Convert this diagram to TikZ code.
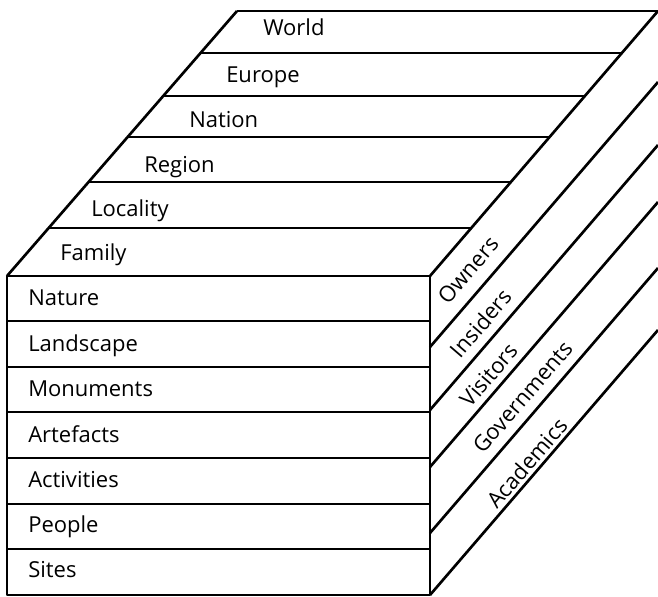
\documentclass[tikz,border=0pt]{standalone}
\usepackage{fontspec}
\setmainfont{Open Sans}

\begin{document}
\begin{tikzpicture}[x=0.75pt,y=0.75pt,yscale=-1,xscale=1,
  edge/.style={line width=2pt, line join=round},
  lbl/.style={inner sep=0.75pt, font=\fontsize{16.5}{20}\selectfont},
  side lbl/.style={lbl, rotate=49.3}]
\useasboundingbox (0,0) rectangle (658,597);

%Shape: Top face
\draw [edge] (237,11) -- (658,11) ;
\draw [edge] (237,11) -- (7,276) ;
\draw [edge] (658,11) -- (430,276) ;
%Straight Lines
\draw [edge] (200.5,53) -- (621.9,53) ;
\draw [edge] (163.2,96) -- (584.9,96) ;
\draw [edge] (127.6,137) -- (549.6,137) ;
\draw [edge] (88.6,182) -- (510.9,182) ;
\draw [edge] (48.7,228) -- (471.3,228) ;

%Shape: Front face
\draw [edge] (7,276) -- (430,276) -- (430,595) -- (7,595) -- cycle ;
%Straight Lines
\draw [edge] (7,321) -- (430,321) ;
\draw [edge] (7,367) -- (430,367) ;
\draw [edge] (7,412) -- (430,412) ;
\draw [edge] (7,458) -- (430,458) ;
\draw [edge] (7,504) -- (430,504) ;
\draw [edge] (7,549) -- (430,549) ;

%Straight Lines: side face
\draw [edge] (430,347) -- (658,82) ;
\draw [edge] (430,410) -- (658,145) ;
\draw [edge] (430,467) -- (658,202) ;
\draw [edge] (430,533) -- (658,268) ;
\draw [edge] (430,595) -- (658,330) ;

% Text Node
\draw (262,35) node [anchor=base west] [lbl] (world) {World};
% Text Node
\draw (225,82) node [anchor=base west] [lbl] (europe) {Europe};
% Text Node
\draw (188,127) node [anchor=base west] [lbl] (nation) {Nation};
% Text Node
\draw (143,172) node [anchor=base west] [lbl] (region) {Region};
% Text Node
\draw (90,216) node [anchor=base west] [lbl] (locality) {Locality};
% Text Node
\draw (59,260) node [anchor=base west] [lbl] (family) {Family};

% Text Node
\draw (27,305) node [anchor=base west] [lbl] (nature) {Nature};
% Text Node
\draw (27,351) node [anchor=base west] [lbl] (landscape) {Landscape};
% Text Node
\draw (27,396) node [anchor=base west] [lbl] (monuments) {Monuments};
% Text Node
\draw (27,442) node [anchor=base west] [lbl] (artefacts) {Artefacts};
% Text Node
\draw (27,487) node [anchor=base west] [lbl] (activities) {Activities};
% Text Node
\draw (27,532) node [anchor=base west] [lbl] (people) {People};
% Text Node
\draw (27,577) node [anchor=base west] [lbl] (sites) {Sites};

% Text Node
\draw (468,270) node [side lbl] (owners) {Owners};
% Text Node
\draw (481,323) node [side lbl] (insiders) {Insiders};
% Text Node
\draw (489,375) node [side lbl] (visitors) {Visitors};
% Text Node
\draw (523,397) node [side lbl] (governments) {Governments};
% Text Node
\draw (527,463) node [side lbl] (academics) {Academics};
\end{tikzpicture}
\end{document}
